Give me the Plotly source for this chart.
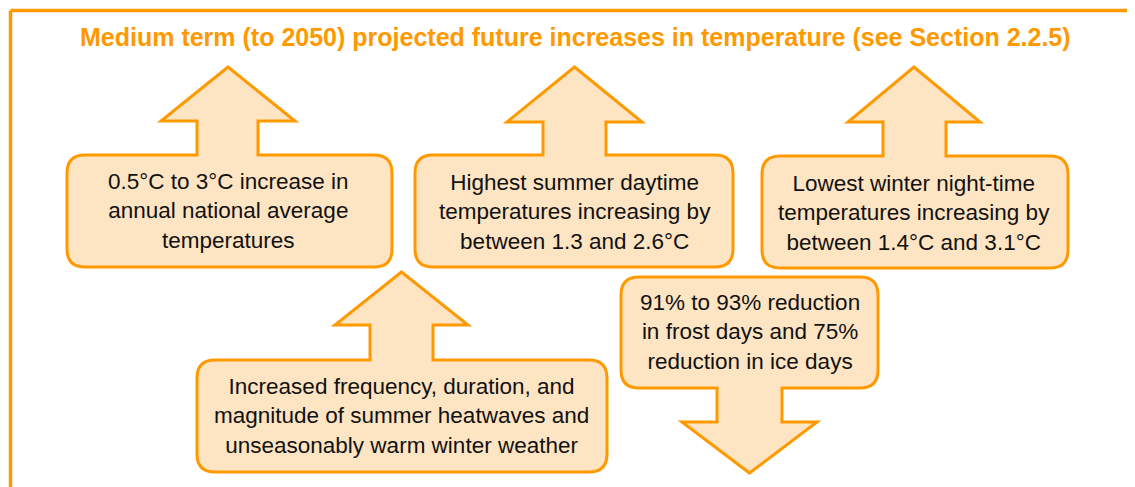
import plotly.graph_objects as go

# ---- content ----
title_text = "Medium term (to 2050) projected future increases in temperature (see Section 2.2.5)"
box_texts = [
    "0.5°C to 3°C increase in<br>annual national average<br>temperatures",
    "Highest summer daytime<br>temperatures increasing by<br>between 1.3 and 2.6°C",
    "Lowest winter night-time<br>temperatures increasing by<br>between 1.4°C and 3.1°C",
    "Increased frequency, duration, and<br>magnitude of summer heatwaves and<br>unseasonably warm winter weather",
    "91% to 93% reduction<br>in frost days and 75%<br>reduction in ice days",
]
arrow_dirs = ["up", "up", "up", "up", "down"]

# ---- layout geometry (pixels) ----
box_left = [67, 415, 762, 197, 621]
box_right = [392, 733, 1068, 607, 878]
box_top = [155, 155, 156, 360, 277]
box_bottom = [267, 267, 268, 472, 388]
shaft_left = [197, 543, 883, 370, 717]
shaft_right = [258, 606, 946, 433, 782]
head_left = [161, 507, 848, 335, 682]
head_right = [295, 642, 980, 468, 817]
head_base = [121, 122, 122, 325, 422]
tip = [67, 67, 67, 272, 473]
text_y = [211, 212, 213, 416, 332]

ORANGE = "#FF9900"
FILL = "#FDE4C3"
W, H = 1135, 487
OFF = 8  # page body margin
R = 18


def shape_path(i):
    l, r, t, b = box_left[i], box_right[i], box_top[i], box_bottom[i]
    sl, sr = shaft_left[i], shaft_right[i]
    hl, hr, hb, tp = head_left[i], head_right[i], head_base[i], tip[i]
    tx = (hl + hr) / 2
    if arrow_dirs[i] == "up":
        p = (f"M{l+R},{t} L{sl},{t} L{sl},{hb} L{hl},{hb} L{tx},{tp} L{hr},{hb} "
             f"L{sr},{hb} L{sr},{t} L{r-R},{t} Q{r},{t} {r},{t+R} L{r},{b-R} "
             f"Q{r},{b} {r-R},{b} L{l+R},{b} Q{l},{b} {l},{b-R} L{l},{t+R} Q{l},{t} {l+R},{t} Z")
    else:
        p = (f"M{l+R},{t} L{r-R},{t} Q{r},{t} {r},{t+R} L{r},{b-R} Q{r},{b} {r-R},{b} "
             f"L{sr},{b} L{sr},{hb} L{hr},{hb} L{tx},{tp} L{hl},{hb} L{sl},{hb} L{sl},{b} "
             f"L{l+R},{b} Q{l},{b} {l},{b-R} L{l},{t+R} Q{l},{t} {l+R},{t} Z")
    return p


fig = go.Figure()
fig.add_trace(go.Scatter(x=[OFF, W], y=[OFF, H], mode="markers",
                         marker=dict(opacity=0), hoverinfo="skip", showlegend=False))

shapes = []
# outer frame (top and left lines)
shapes.append(dict(type="line", x0=10.5, x1=W + 5, y0=10.5, y1=10.5,
                   line=dict(color=ORANGE, width=3.5), xref="x", yref="y"))
shapes.append(dict(type="line", x0=10.5, x1=10.5, y0=10.5, y1=H + 5,
                   line=dict(color=ORANGE, width=3.5), xref="x", yref="y"))
for i in range(len(box_texts)):
    shapes.append(dict(type="path", path=shape_path(i), xref="x", yref="y",
                       fillcolor=FILL, line=dict(color=ORANGE, width=3)))

annotations = [dict(x=575, y=37, text=f"<b>{title_text}</b>", showarrow=False,
                    xref="x", yref="y", xanchor="center", yanchor="middle",
                    font=dict(family="Liberation Sans, Arial", size=25, color=ORANGE))]
for i, t in enumerate(box_texts):
    cx = (head_left[i] + head_right[i]) / 2
    annotations.append(dict(x=cx, y=text_y[i], text=t, showarrow=False,
                            xref="x", yref="y", xanchor="center", yanchor="middle",
                            align="center",
                            font=dict(family="Liberation Sans, Arial", size=22.5, color="#111111")))

fig.update_layout(
    width=W - OFF, height=H - OFF, margin=dict(l=0, r=0, t=0, b=0),
    paper_bgcolor="white", plot_bgcolor="white",
    xaxis=dict(range=[OFF, W], visible=False, fixedrange=True),
    yaxis=dict(range=[H, OFF], visible=False, fixedrange=True),
    shapes=shapes, annotations=annotations, showlegend=False,
)
fig.write_html("out.html")
